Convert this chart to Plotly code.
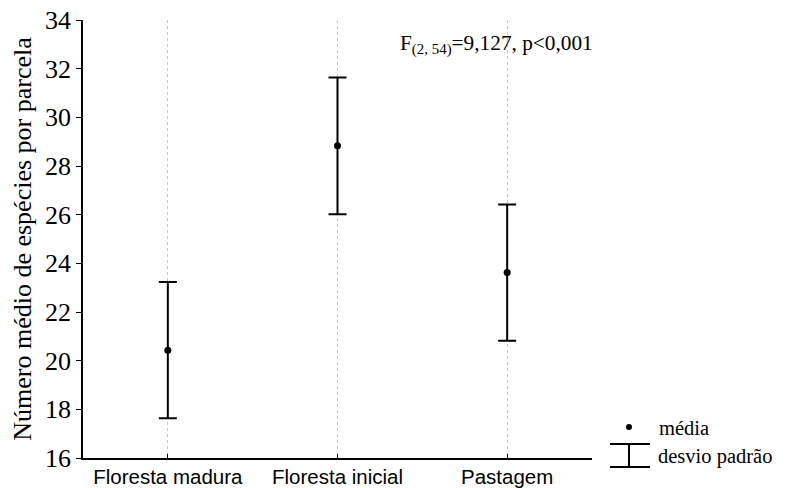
import plotly.graph_objects as go

categories = ["Floresta madura", "Floresta inicial", "Pastagem"]
means = [20.43, 28.83, 23.62]
sds = [2.80, 2.81, 2.80]
y_ticks = [16, 18, 20, 22, 24, 26, 28, 30, 32, 34]

SERIF = "Liberation Serif"
SANS = "Liberation Sans"

# page body has an 8px margin; the figure is sized to fit the window
OFF = 8
W, H = 786 - OFF, 488 - OFF
AX_L, AX_R, AX_T, AX_B = 83, 592, 20, 458  # plot area in screen pixels
L, R = AX_L - OFF, W - (AX_R - OFF)
T, B = AX_T - OFF, H - (AX_B - OFF)
pw, ph = AX_R - AX_L, AX_B - AX_T

def px(x):
    return (x - AX_L) / pw

def py(y):
    return (AX_B - y) / ph

fig = go.Figure()
fig.add_trace(go.Scatter(
    x=list(range(len(categories))), y=means, mode="markers",
    marker=dict(color="black", size=7),
    error_y=dict(type="data", array=sds, symmetric=True, color="black",
                 thickness=2, width=9),
    showlegend=False,
))

fig.update_layout(
    width=W, height=H,
    margin=dict(l=L, r=R, t=T, b=B),
    paper_bgcolor="white", plot_bgcolor="white",
    xaxis=dict(
        range=[-0.5, 2.5], tickmode="array", tickvals=list(range(len(categories))),
        ticktext=categories, showline=True, linecolor="black", linewidth=1.5,
        ticks="inside", ticklen=4, tickcolor="black", tickwidth=1,
        showgrid=True, gridcolor="#c8c8c8", griddash="dot", gridwidth=1,
        tickfont=dict(family=SANS, size=20.5, color="black"), zeroline=False,
        automargin=False, ticklabeloverflow="allow",
    ),
    yaxis=dict(
        range=[16, 34], tickmode="array", tickvals=y_ticks,
        showline=True, linecolor="black", linewidth=1.5,
        ticks="outside", ticklen=5, tickcolor="black", tickwidth=1,
        showgrid=False, zeroline=False, automargin=False,
        ticklabeloverflow="allow",
        tickfont=dict(family=SERIF, size=26, color="black"),
        title=dict(text="Número médio de espécies por parcela",
                   font=dict(family=SERIF, size=26, color="black"), standoff=6),
    ),
)

fig.add_annotation(
    text="F<sub>(2, 54)</sub>=9,127, p&lt;0,001", xref="paper", yref="paper",
    x=px(398), y=py(45), xanchor="left", yanchor="middle", showarrow=False,
    font=dict(family=SERIF, size=21.3, color="black"),
)

# legend glyphs
fig.add_shape(type="circle", xref="paper", yref="paper",
              x0=px(626), x1=px(632), y0=py(430), y1=py(424),
              fillcolor="black", line=dict(color="black", width=0))
for yy in (444, 467):
    fig.add_shape(type="line", xref="paper", yref="paper",
                  x0=px(610), x1=px(650), y0=py(yy), y1=py(yy),
                  line=dict(color="black", width=2))
fig.add_shape(type="line", xref="paper", yref="paper",
              x0=px(629), x1=px(629), y0=py(444), y1=py(467),
              line=dict(color="black", width=2))
fig.add_annotation(text="média", xref="paper", yref="paper", x=px(657), y=py(428),
                   xanchor="left", yanchor="middle", showarrow=False,
                   font=dict(family=SERIF, size=20.5, color="black"))
fig.add_annotation(text="desvio padrão", xref="paper", yref="paper", x=px(656), y=py(456),
                   xanchor="left", yanchor="middle", showarrow=False,
                   font=dict(family=SERIF, size=20.5, color="black"))

fig.write_html("out.html")
